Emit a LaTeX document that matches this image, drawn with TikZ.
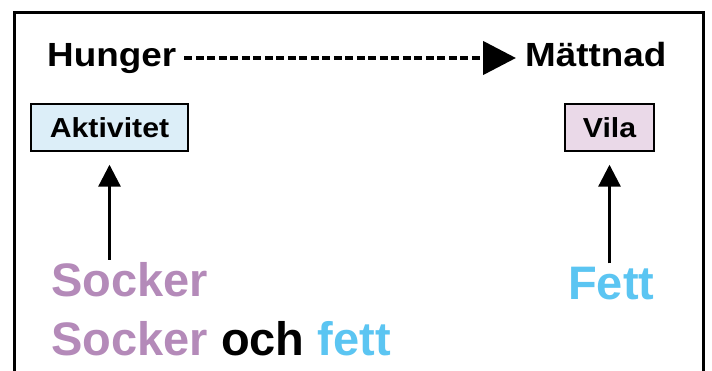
\documentclass[tikz,border=0pt]{standalone}
\usepackage{fontspec}
\setmainfont{Liberation Sans}
\newfontfamily\labfont[FakeStretch=1.1]{Liberation Sans}
\usetikzlibrary{arrows.meta}
\definecolor{lilac}{HTML}{B48AB9}
\definecolor{skyblue}{HTML}{5BC5F2}
\definecolor{boxblue}{HTML}{DCEEF8}
\definecolor{boxpink}{HTML}{EAD9E8}
\tikzset{
  head/.style={inner sep=0pt, anchor=base west, font=\labfont\bfseries\fontsize{33.5}{40}\selectfont},
  labelbox/.style={draw=black, line width=1.4pt, minimum height=47pt, inner sep=0pt,
    font=\labfont\bfseries\fontsize{27.5}{32}\selectfont},
  food/.style={inner sep=0pt, anchor=base west, font=\bfseries\fontsize{47}{56}\selectfont},
  dasharrow/.style={line width=4.5pt, dash pattern=on 8pt off 3.5pt,
    -{Triangle[width=33pt,length=33pt]}},
  uparrow/.style={line width=3pt, -{Triangle[width=22pt,length=22pt]}},
}
\begin{document}
\begin{tikzpicture}[x=1pt,y=-1pt]
\useasboundingbox (0,0) rectangle (712,371);
\fill[white] (0,0) rectangle (712,371);
% outer frame
\draw[line width=3pt] (14,375) -- (14,13) -- (703,13) -- (703,375);
% headings
\node[head] (hunger) at (47,67) {Hunger};
\node[head] (mattnad) at (525,67) {Mättnad};
\draw[dasharrow] ([shift={(8,-9)}]hunger.base east) -- ([shift={(-9,-9)}]mattnad.base west);
% boxes
\node[labelbox, fill=boxblue, minimum width=157pt] (aktiv) at (109.5,127.5) {Aktivitet};
\node[labelbox, fill=boxpink, minimum width=89pt] (vila) at (609.5,127.5) {Vila};
% food texts
\node[food, text=lilac] (socker) at (51,297) {Socker};
\node[food] (sockerfett) at (51,355) {\textcolor{lilac}{Socker} \textcolor{black}{och} \textcolor{skyblue}{fett}};
\node[food, text=skyblue] (fett) at (568,299) {Fett};
% arrows
\draw[uparrow] ([yshift=3pt]aktiv.south |- socker.north) -- ([yshift=-13pt]aktiv.south);
\draw[uparrow] ([yshift=3pt]vila.south |- fett.north) -- ([yshift=-13pt]vila.south);
\end{tikzpicture}
\end{document}
